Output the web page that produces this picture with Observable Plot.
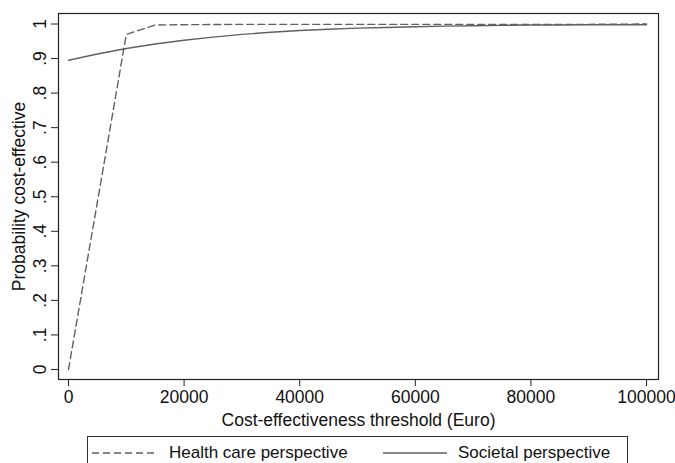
<!DOCTYPE html>
<html>
<head>
<meta charset="utf-8">
<script src="https://cdn.jsdelivr.net/npm/d3@7"></script>
<script src="https://cdn.jsdelivr.net/npm/@observablehq/plot@0.6"></script>
<style>
  body { margin: 0; background: #fff; font-family: "Liberation Sans", Arial, Helvetica, sans-serif; }
  #chart { position: relative; width: 675px; height: 463px; overflow: hidden; }
  #legend { position: absolute; left: 87px; top: 436px; width: 541px; height: 40px; border: 1px solid #333; box-sizing: border-box; }
  .item { position: absolute; top: 6px; display: flex; align-items: center; font-size: 17px; color: #111; }
</style>
</head>
<body>
<div id="chart"></div>
<script>
// Thresholds (Euro)
const healthX = [0, 10000, 15000, 20000, 30000, 40000, 50000, 60000, 70000, 80000, 90000, 100000];
const healthY = [0, 0.970, 0.997, 0.998, 0.999, 0.999, 0.999, 0.999, 0.999, 0.999, 0.999, 1.0];
const societalX = [0, 5000, 10000, 15000, 20000, 25000, 30000, 35000, 40000, 45000, 50000, 55000, 60000, 65000, 70000, 75000, 80000, 85000, 90000, 95000, 100000];
const societalY = [0.895, 0.913, 0.929, 0.942, 0.953, 0.962, 0.970, 0.976, 0.981, 0.985, 0.988, 0.990, 0.992, 0.994, 0.995, 0.996, 0.997, 0.997, 0.998, 0.998, 0.998];
const xTicks = [0, 20000, 40000, 60000, 80000, 100000];
const yTicks = [0, 0.1, 0.2, 0.3, 0.4, 0.5, 0.6, 0.7, 0.8, 0.9, 1];
const seriesNames = ["Health care perspective", "Societal perspective"];

const health = healthX.map((x, i) => ({x, y: healthY[i]}));
const societal = societalX.map((x, i) => ({x, y: societalY[i]}));
const yFmt = d => d === 0 ? "0" : d === 1 ? "1" : d.toFixed(1).replace(/^0/, "");
const FS = 17.5;

const plot = Plot.plot({
  width: 675,
  height: 430,
  marginLeft: 58,
  marginRight: 17,
  marginTop: 13,
  marginBottom: 51,
  style: {fontFamily: "Liberation Sans, Arial, sans-serif", fontSize: FS + "px", color: "#111", background: "#fff"},
  x: {domain: [-1730, 102070]},
  y: {domain: [-0.029, 1.0304]},
  marks: [
    Plot.line(societal, {x: "x", y: "y", stroke: "#606060", strokeWidth: 1.4}),
    Plot.line(health, {x: "x", y: "y", stroke: "#606060", strokeWidth: 1.4, strokeDasharray: "7,4"}),
    Plot.frame({stroke: "#222", strokeWidth: 1.2}),
    Plot.axisX({ticks: xTicks, tickFormat: d => String(d), tickSize: 7, tickPadding: 4, fontSize: FS, label: "Cost-effectiveness threshold (Euro)", labelAnchor: "center", labelArrow: "none", labelOffset: 46, stroke: "#222"}),
    Plot.axisY({ticks: yTicks, tickFormat: null, text: null, tickSize: 7, label: null, stroke: "#222"}),
    Plot.text(yTicks, {y: d => d, text: yFmt, frameAnchor: "left", dx: -18, rotate: -90, textAnchor: "middle", lineAnchor: "middle", fontSize: FS, fill: "#111"}),
    Plot.text(["Probability cost-effective"], {frameAnchor: "left", dx: -39, rotate: -90, textAnchor: "middle", lineAnchor: "middle", fontSize: FS, fill: "#111"})
  ]
});
const chart = document.getElementById("chart");
chart.appendChild(plot);

const legend = document.createElement("div");
legend.id = "legend";
legend.innerHTML = `
  <div class="item" style="left:4px"><svg width="66" height="10" style="margin-right:11px"><line x1="0" y1="5" x2="66" y2="5" stroke="#606060" stroke-width="1.4" stroke-dasharray="7,4"/></svg>${seriesNames[0]}</div>
  <div class="item" style="left:295px"><svg width="64" height="10" style="margin-right:11px"><line x1="0" y1="5" x2="64" y2="5" stroke="#606060" stroke-width="1.4"/></svg>${seriesNames[1]}</div>`;
chart.appendChild(legend);
</script>
</body>
</html>
